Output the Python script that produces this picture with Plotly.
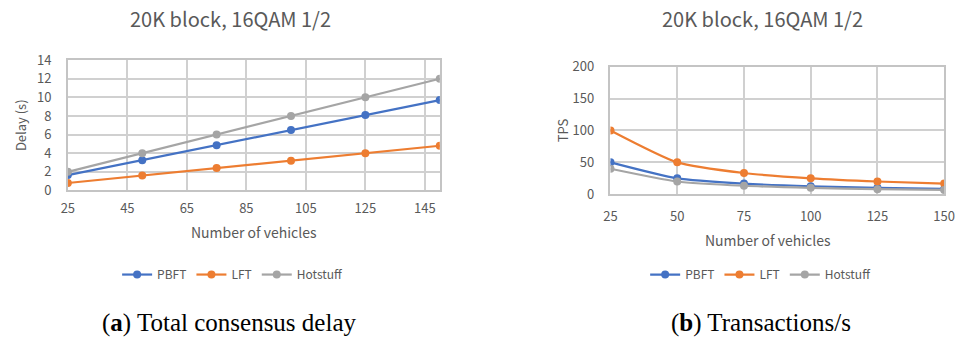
import plotly.graph_objects as go

# Data
vehicles = [25, 50, 75, 100, 125, 150]

delay_pbft = [1.65, 3.25, 4.85, 6.5, 8.1, 9.7]
delay_lft = [0.8, 1.6, 2.4, 3.2, 4.0, 4.8]
delay_hotstuff = [2.0, 4.0, 6.0, 8.0, 10.0, 12.0]

tps_pbft = [50, 25, 16.7, 12.5, 10, 8.3]
tps_lft = [100, 50, 33.3, 25, 20, 16.7]
tps_hotstuff = [40, 20, 13.3, 10, 8, 6.7]

series_names = ["PBFT", "LFT", "Hotstuff"]
colors = ["#4472C4", "#ED7D31", "#A5A5A5"]

left_xticks = [25, 45, 65, 85, 105, 125, 145]
right_xticks = [25, 50, 75, 100, 125, 150]

chart_title = "20K block, 16QAM 1/2"
x_title = "Number of vehicles"

FONT = "Noto Sans CJK KR"
TEXT = "#595959"
GRID = "#d0d0d0"

fig = go.Figure()

for name, color, ys in zip(series_names, colors, [delay_pbft, delay_lft, delay_hotstuff]):
    fig.add_trace(go.Scatter(
        x=vehicles, y=ys, name=name, mode="lines+markers",
        line=dict(color=color, width=2.2), marker=dict(color=color, size=8),
        xaxis="x", yaxis="y", legend="legend",
    ))

for name, color, ys in zip(series_names, colors, [tps_pbft, tps_lft, tps_hotstuff]):
    fig.add_trace(go.Scatter(
        x=vehicles, y=ys, name=name, mode="lines+markers",
        line=dict(color=color, width=2.2, shape="spline", smoothing=0.6),
        marker=dict(color=color, size=8),
        xaxis="x2", yaxis="y2", legend="legend2",
    ))

axis_common = dict(
    showgrid=True, gridcolor=GRID, gridwidth=1.5,
    showline=True, linecolor="#c4c4c4", linewidth=1.5, mirror=True,
    zeroline=False, ticks="outside", tickcolor="rgba(0,0,0,0)",
    tickfont=dict(family=FONT, size=13, color=TEXT),
)

fig.update_layout(
    width=966, height=344,
    margin=dict(l=0, r=0, t=0, b=0),
    paper_bgcolor="white", plot_bgcolor="white",
    font=dict(family=FONT, color=TEXT),
    xaxis=dict(domain=[0.0642, 0.4565], range=[25, 150], tickvals=left_xticks,
               anchor="y", ticklen=5, **axis_common),
    yaxis=dict(domain=[0.4448, 0.8459], range=[0, 14], dtick=2, anchor="x", ticklen=12,
               title=dict(text="Delay (s)", font=dict(family=FONT, size=13, color=TEXT), standoff=8),
               **axis_common),
    xaxis2=dict(domain=[0.6366, 0.9886], range=[25, 150], tickvals=right_xticks,
                anchor="y2", ticklen=9, **axis_common),
    yaxis2=dict(domain=[0.4331, 0.8256], range=[0, 200], dtick=50, anchor="x2", ticklen=12,
                title=dict(text="TPS", font=dict(family=FONT, size=13, color=TEXT), standoff=0),
                **axis_common),
    legend=dict(orientation="h", x=0.238, xanchor="center", y=0.186, yanchor="middle",
                font=dict(family=FONT, size=12, color=TEXT), itemwidth=30,
                bgcolor="rgba(0,0,0,0)"),
    legend2=dict(orientation="h", x=0.795, xanchor="center", y=0.186, yanchor="middle",
                 font=dict(family=FONT, size=12, color=TEXT), itemwidth=30,
                 bgcolor="rgba(0,0,0,0)"),
    showlegend=True,
)

annotations = [
    dict(text=chart_title, x=228 / 966, y=1 - 9 / 344, font=dict(family=FONT, size=20, color=TEXT)),
    dict(text=chart_title, x=770 / 966, y=1 - 9 / 344, font=dict(family=FONT, size=20, color=TEXT)),
    dict(text=x_title, x=252 / 966, y=1 - 235 / 344, font=dict(family=FONT, size=14, color=TEXT)),
    dict(text=x_title, x=775 / 966, y=1 - 243 / 344, font=dict(family=FONT, size=14, color=TEXT)),
    dict(text="(<b>a</b>) Total consensus delay", x=226 / 966, y=1 - 331 / 344,
         font=dict(family="Liberation Serif", size=25, color="#000000")),
    dict(text="(<b>b</b>) Transactions/s", x=768 / 966, y=1 - 331 / 344,
         font=dict(family="Liberation Serif", size=25, color="#000000")),
]
for a in annotations:
    a.update(xref="paper", yref="paper", showarrow=False, xanchor="center", yanchor="middle")
fig.update_layout(annotations=annotations)

fig.write_html("out.html")
